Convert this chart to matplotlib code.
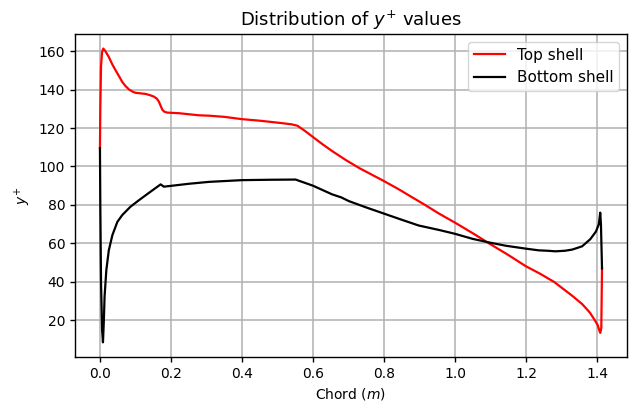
"""
Distribution of y+ values along the chord, top and bottom shell.
"""

import matplotlib

matplotlib.use("Agg")
import matplotlib.pyplot as plt

# top shell (chord in m, y+)
top_x = [0.0, 0.001, 0.003, 0.006, 0.0094, 0.015, 0.025, 0.035, 0.044, 0.055,
         0.063, 0.072, 0.082, 0.092, 0.10, 0.115, 0.129, 0.142, 0.152, 0.16,
         0.166, 0.171, 0.176, 0.182, 0.19, 0.222, 0.279, 0.307, 0.35, 0.4,
         0.45, 0.514, 0.54, 0.556, 0.575, 0.6, 0.625, 0.654, 0.692, 0.73,
         0.765, 0.8, 0.84, 0.88, 0.913, 0.955, 1.0, 1.05, 1.096, 1.15,
         1.199, 1.24, 1.279, 1.33, 1.358, 1.38, 1.394, 1.402, 1.406, 1.409,
         1.412, 1.414]
top_y = [109.5, 130, 152, 159.5, 161.3, 160, 156.9, 153, 150, 146.5,
         143.9, 141.8, 140, 138.9, 138.3, 138, 137.7, 137, 136.3, 135.3,
         133.7, 131.5, 129.4, 128.4, 128, 127.7, 126.6, 126.4, 125.8, 124.6,
         123.8, 122.5, 121.9, 121.2, 118.8, 115.3, 111.8, 108, 103.4, 99.2,
         95.8, 92.4, 88.3, 83.9, 80.3, 75.5, 70.8, 65.3, 60, 54,
         48.2, 44.2, 40, 32.8, 28.5, 24, 20, 17.5, 15, 13.5,
         16, 47]

# bottom shell
bot_x = [0.0, 0.001, 0.003, 0.006, 0.0085, 0.011, 0.013, 0.018, 0.025, 0.035,
         0.049, 0.063, 0.086, 0.11, 0.138, 0.171, 0.18, 0.194, 0.25, 0.307,
         0.4, 0.48, 0.551, 0.6, 0.654, 0.68, 0.701, 0.75, 0.8, 0.85,
         0.898, 0.955, 1.0, 1.049, 1.096, 1.143, 1.199, 1.236, 1.26, 1.283,
         1.31, 1.33, 1.358, 1.381, 1.397, 1.405, 1.409, 1.411, 1.414]
bot_y = [109.5, 80, 40, 15, 8.6, 20, 32.4, 46.2, 56.5, 64.3,
         71.2, 74.8, 79.1, 82.5, 86.3, 90.7, 89.5, 89.8, 91, 92,
         92.9, 93.1, 93.2, 90, 85.5, 83.9, 82, 78.7, 75.5, 72.3,
         69.3, 67, 65, 62.4, 60.5, 58.8, 57.3, 56.4, 56.2, 55.9,
         56.2, 56.8, 58.5, 62.2, 66.2, 70, 76, 70, 47]


def ve_bieu_do():
    fig, ax = plt.subplots(figsize=(6.29, 4.08), dpi=100)
    fig.subplots_adjust(left=0.119, right=0.997, top=0.917, bottom=0.125)
    ax.plot(top_x, top_y, color="red", lw=1.6, label="Top shell")
    ax.plot(bot_x, bot_y, color="black", lw=1.6, label="Bottom shell")
    ax.set_title("Distribution of $y^{+}$ values", fontsize=13)
    ax.set_xlabel("Chord ($m$)")
    ax.set_ylabel("$y^{+}$")
    ax.grid(True, color="#b0b0b0", lw=1.1)
    for sp in ax.spines.values():
        sp.set_linewidth(1.0)
    ax.tick_params(width=1.0)
    ax.legend(loc="upper right", fontsize=11)
    fig.savefig("out.png", dpi=100)
    plt.close(fig)


if __name__ == "__main__":
    ve_bieu_do()
